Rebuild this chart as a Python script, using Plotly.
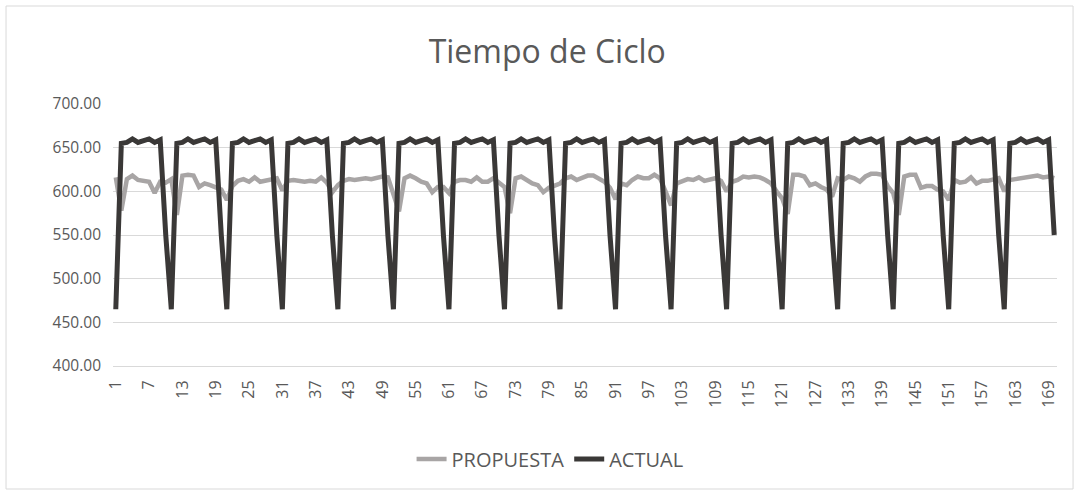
import plotly.graph_objects as go

categories = [str(i) for i in range(1, 171)]

propuesta = [
    616, 578, 614, 618, 613, 612, 611, 598, 611, 610,
    614, 573, 618, 619, 618, 605, 609, 607, 604, 602,
    590, 606, 612, 614, 611, 616, 611, 612, 614, 615,
    601, 612, 613, 612, 611, 612, 611, 616, 610, 599,
    607, 612, 614, 613, 614, 615, 614, 616, 617, 616,
    598, 577, 615, 618, 615, 611, 609, 599, 605, 605,
    598, 611, 613, 613, 611, 616, 611, 611, 615, 610,
    605, 575, 615, 617, 613, 609, 607, 599, 604, 607,
    609, 615, 617, 613, 615, 618, 618, 615, 611, 604,
    591, 609, 607, 613, 617, 615, 615, 619, 615, 600,
    584, 609, 612, 614, 613, 616, 612, 613, 615, 612,
    600, 611, 613, 617, 616, 617, 616, 613, 609, 600,
    592, 574, 619, 619, 617, 607, 609, 605, 602, 594,
    615, 613, 617, 615, 611, 617, 620, 620, 619, 606,
    598, 573, 617, 619, 619, 604, 606, 606, 602, 600,
    590, 613, 610, 611, 616, 609, 612, 612, 613, 615,
    600, 613, 614, 615, 615, 616, 618, 616, 617, 615,
]

actual = [
    465, 655, 656, 660, 656, 658, 660, 656, 659, 550,
    465, 655, 656, 660, 656, 658, 660, 656, 659, 550,
    465, 655, 656, 660, 656, 658, 660, 656, 659, 550,
    465, 655, 656, 660, 656, 658, 660, 656, 659, 550,
    465, 655, 656, 660, 656, 658, 660, 656, 659, 550,
    465, 655, 656, 660, 656, 658, 660, 656, 659, 550,
    465, 655, 656, 660, 656, 658, 660, 656, 659, 550,
    465, 655, 656, 660, 656, 658, 660, 656, 659, 550,
    465, 655, 656, 660, 656, 658, 660, 656, 659, 550,
    465, 655, 656, 660, 656, 658, 660, 656, 659, 550,
    465, 655, 656, 660, 656, 658, 660, 656, 659, 550,
    465, 655, 656, 660, 656, 658, 660, 656, 659, 550,
    465, 655, 656, 660, 656, 658, 660, 656, 659, 550,
    465, 655, 656, 660, 656, 658, 660, 656, 659, 550,
    465, 655, 656, 660, 656, 658, 660, 656, 659, 550,
    465, 655, 656, 660, 656, 658, 660, 656, 659, 550,
    465, 655, 656, 660, 656, 658, 660, 656, 659, 550,
]

tick_labels = [str(i) for i in range(1, 171, 6)]
y_ticks = [400, 450, 500, 550, 600, 650, 700]

FONT = "Open Sans, Noto Sans, sans-serif"
TXT = "#595959"

fig = go.Figure()
fig.add_trace(go.Scatter(x=categories, y=propuesta, mode="lines", name="PROPUESTA",
                         line=dict(color="#a8a5a5", width=4.5)))
fig.add_trace(go.Scatter(x=categories, y=actual, mode="lines", name="ACTUAL",
                         line=dict(color="#3a3837", width=5)))

fig.update_layout(
    width=1079, height=495,
    margin=dict(l=113, r=22, t=104, b=129),
    paper_bgcolor="white", plot_bgcolor="white",
    font=dict(family=FONT, color=TXT),
    title=dict(text="Tiempo de Ciclo", x=0.46, xref="paper", xanchor="center",
               y=0.895, yref="container", yanchor="middle",
               font=dict(size=32, color=TXT, family=FONT)),
    showlegend=True,
    legend=dict(orientation="h", x=0.463, xanchor="center", y=-0.355, yanchor="middle",
                font=dict(size=20, color=TXT), bgcolor="rgba(0,0,0,0)"),
    shapes=[dict(type="rect", xref="paper", yref="paper", x0=-0.1133, x1=1.017,
                 y0=-0.4695, y1=1.374, line=dict(color="#d9d9d9", width=1), layer="below")],
)
fig.update_xaxes(type="category", tickmode="array", tickvals=tick_labels, ticktext=tick_labels,
                 tickangle=-90, tickfont=dict(size=16, color=TXT), showgrid=False,
                 showline=True, linecolor="#d9d9d9", linewidth=1, ticks="",
                 ticklabelstandoff=7,
                 range=[-0.5, 169.5], fixedrange=True)
fig.update_yaxes(range=[400, 700], tickmode="array", tickvals=y_ticks, tickformat=".2f",
                 tickfont=dict(size=15.5, color=TXT), showgrid=True, gridcolor="#d9d9d9",
                 gridwidth=1, zeroline=False, showline=False, ticks="", ticklen=0,
                 ticklabelstandoff=11,
                 fixedrange=True)

fig.write_html("out.html")
